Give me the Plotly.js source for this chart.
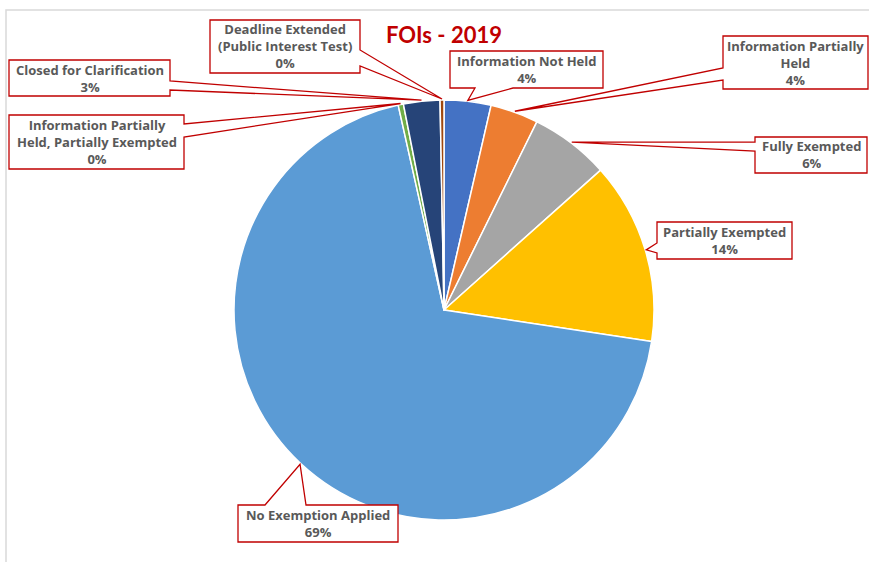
<!DOCTYPE html>
<html>
<head>
<meta charset="utf-8">
<script src="https://cdn.plot.ly/plotly-3.0.1.min.js"></script>
<style>
  html, body { margin: 0; padding: 0; background: #fff; }
  #chart { width: 869px; height: 562px; }
</style>
</head>
<body>
<div id="chart"></div>
<script>
// FOIs - 2019 : share of requests by outcome
const categories = [
  'Information Not Held',
  'Information Partially Held',
  'Fully Exempted',
  'Partially Exempted',
  'No Exemption Applied',
  'Information Partially Held, Partially Exempted',
  'Closed for Clarification',
  'Deadline Extended (Public Interest Test)'
];
const values = [3.6, 3.7, 6.1, 14.0, 69.1, 0.4, 2.8, 0.3];
const colors = ['#4472C4', '#ED7D31', '#A5A5A5', '#FFC000', '#5B9BD5', '#70AD47', '#264478', '#9E480E'];

// label text with the line breaks used in the callouts
const labelNames = [
  'Information Not Held',
  'Information Partially<br>Held',
  'Fully Exempted',
  'Partially Exempted',
  'No Exemption Applied',
  'Information Partially<br>Held, Partially Exempted',
  'Closed for Clarification',
  'Deadline Extended<br>(Public Interest Test)'
];

const W = 869, H = 562;
const CX = 444, CY = 310, R = 210;

// callout boxes in pixels: [x0, y0, x1, y1], side the pointer leaves from, pointer base [a, b]
const callouts = [
  { box: [450, 51, 603, 88],  side: 'bottom', base: [475, 513] },
  { box: [723, 36, 868, 89],  side: 'left',   base: [68, 80] },
  { box: [755, 137, 867, 173], side: 'left',  base: [142, 151] },
  { box: [657, 222, 792, 259], side: 'left',  base: [243, 253] },
  { box: [238, 505, 398, 542], side: 'top',   base: [265, 306] },
  { box: [9, 115, 184, 169],  side: 'right',  base: [124, 137] },
  { box: [9, 60, 170, 96],    side: 'right',  base: [81, 90] },
  { box: [210, 20, 360, 73],  side: 'right',  base: [50, 66] }
];

const px = x => x / W;
const py = y => 1 - y / H;

const total = values.reduce((a, b) => a + b, 0);

// mid point of each slice on the rim (clockwise from 12 o'clock)
let cum = 0;
const tips = values.map(v => {
  const mid = (cum + v / 2) / total;
  cum += v;
  const th = mid * 2 * Math.PI;
  return [CX + (R + 1) * Math.sin(th), CY - (R + 1) * Math.cos(th)];
});

function calloutPath(c, tip) {
  const [x0, y0, x1, y1] = c.box;
  const [a, b] = c.base;
  const t = px(tip[0]) + ',' + py(tip[1]);
  const P = (x, y) => px(x) + ',' + py(y);
  let d;
  if (c.side === 'right') {
    d = 'M' + P(x0, y0) + ' L' + P(x1, y0) + ' L' + P(x1, a) + ' L' + t + ' L' + P(x1, b) +
        ' L' + P(x1, y1) + ' L' + P(x0, y1) + ' Z';
  } else if (c.side === 'left') {
    d = 'M' + P(x0, y0) + ' L' + P(x1, y0) + ' L' + P(x1, y1) + ' L' + P(x0, y1) +
        ' L' + P(x0, b) + ' L' + t + ' L' + P(x0, a) + ' Z';
  } else if (c.side === 'top') {
    d = 'M' + P(x0, y0) + ' L' + P(a, y0) + ' L' + t + ' L' + P(b, y0) + ' L' + P(x1, y0) +
        ' L' + P(x1, y1) + ' L' + P(x0, y1) + ' Z';
  } else {
    d = 'M' + P(x0, y0) + ' L' + P(x1, y0) + ' L' + P(x1, y1) + ' L' + P(b, y1) + ' L' + t +
        ' L' + P(a, y1) + ' L' + P(x0, y1) + ' Z';
  }
  return d;
}

const shapes = [
  // chart frame (runs off the right and bottom of the picture)
  { type: 'rect', xref: 'paper', yref: 'paper', layer: 'below',
    x0: px(6), x1: px(900), y0: py(10), y1: py(600),
    line: { color: '#D9D9D9', width: 1.5 }, fillcolor: 'rgba(0,0,0,0)' }
];
const annotations = [
  { text: '<b>FOIs - 2019</b>', xref: 'paper', yref: 'paper', x: px(444), y: py(35),
    xanchor: 'center', yanchor: 'middle', showarrow: false,
    font: { family: 'Lato, "Open Sans", sans-serif', size: 22, color: '#C00000' } }
];

callouts.forEach((c, i) => {
  shapes.push({ type: 'path', xref: 'paper', yref: 'paper', layer: 'above',
    path: calloutPath(c, tips[i]), fillcolor: '#FFFFFF',
    line: { color: '#C00000', width: 1.3 } });
  const pct = Math.round(values[i] / total * 100) + '%';
  annotations.push({
    text: '<b>' + labelNames[i].replace('<br>', '</b><br><b>') + '</b><br><b>' + pct + '</b>',
    xref: 'paper', yref: 'paper',
    x: px((c.box[0] + c.box[2]) / 2), y: py((c.box[1] + c.box[3]) / 2),
    xanchor: 'center', yanchor: 'middle', align: 'center', showarrow: false,
    font: { family: '"Open Sans", Lato, sans-serif', size: 13, color: '#595959' }
  });
});

const trace = {
  type: 'pie',
  labels: categories,
  values: values,
  sort: false,
  direction: 'clockwise',
  rotation: 0,
  textinfo: 'none',
  hoverinfo: 'label+percent',
  marker: { colors: colors, line: { color: '#FFFFFF', width: 1.5 } },
  domain: { x: [px(CX - R), px(CX + R)], y: [py(CY + R), py(CY - R)] }
};

const layout = {
  width: W, height: H,
  margin: { l: 0, r: 0, t: 0, b: 0 },
  paper_bgcolor: '#FFFFFF',
  showlegend: false,
  shapes: shapes,
  annotations: annotations
};

Plotly.newPlot('chart', [trace], layout, { displayModeBar: false, staticPlot: true });
</script>
</body>
</html>
